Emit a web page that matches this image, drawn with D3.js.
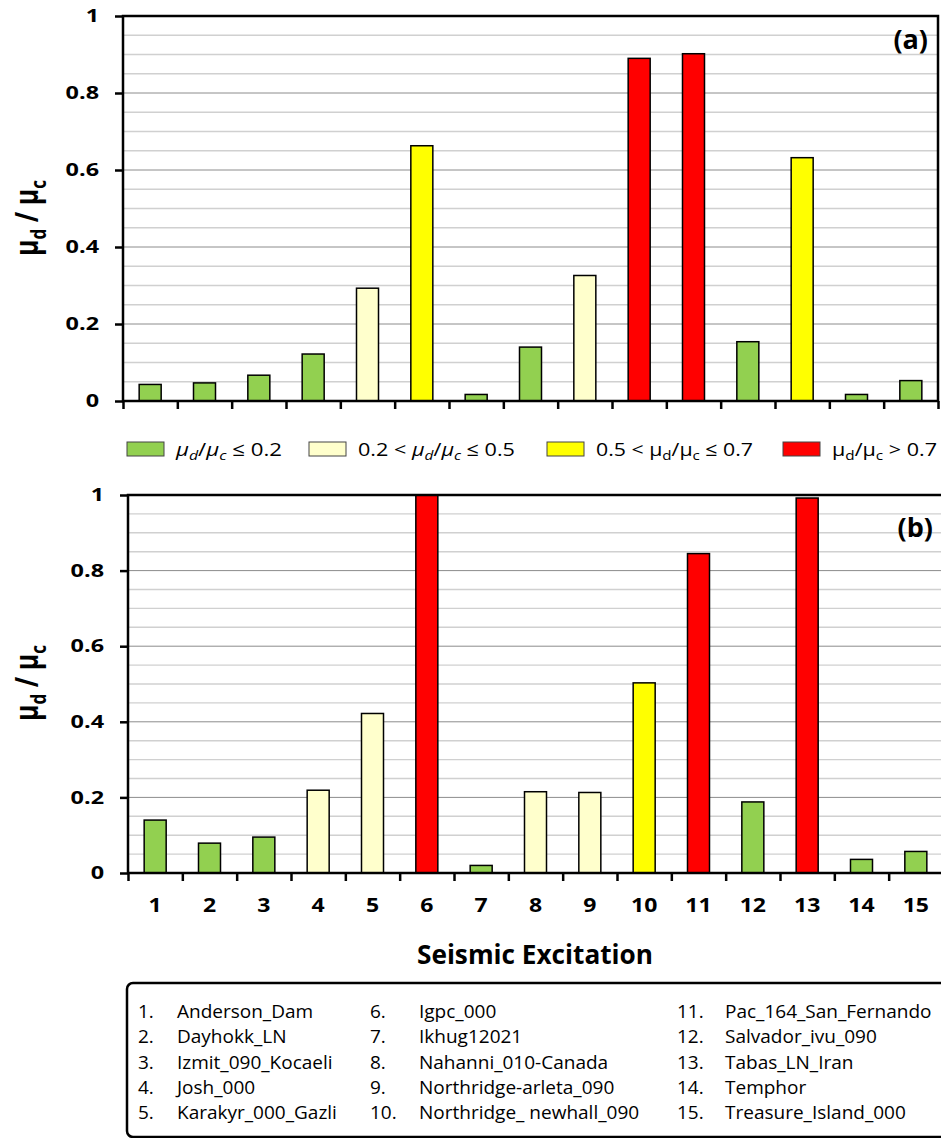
<!DOCTYPE html>
<html>
<head>
<meta charset="utf-8">
<script src="https://cdn.jsdelivr.net/npm/d3@7"></script>
<style>
  body { margin: 0; background: #fff; }
  svg { display: block; }
  text { font-family: "Open Sans", "Noto Sans", sans-serif; fill: #000; }
</style>
</head>
<body>
<svg id="chart" width="941" height="1138"></svg>
<script>
// categories (seismic excitation number)
var CATS = ["1", "2", "3", "4", "5", "6", "7", "8", "9", "10", "11", "12", "13", "14", "15"];
// mu_d / mu_c, panel (a) and (b)
var VALUES_A = [0.043, 0.047, 0.067, 0.122, 0.293, 0.663, 0.017, 0.140, 0.326, 0.890, 0.902, 0.154, 0.632, 0.017, 0.053];
var VALUES_B = [0.140, 0.079, 0.095, 0.219, 0.422, 1.000, 0.020, 0.215, 0.213, 0.503, 0.845, 0.188, 0.992, 0.036, 0.057];
var Y_TICKS = [0, 0.2, 0.4, 0.6, 0.8, 1];
// class limits for the colour legend
var LIMITS = [0.2, 0.5, 0.7];
var RECORDS = [
  "Anderson_Dam", "Dayhokk_LN", "Izmit_090_Kocaeli", "Josh_000", "Karakyr_000_Gazli",
  "Igpc_000", "Ikhug12021", "Nahanni_010-Canada", "Northridge-arleta_090", "Northridge_ newhall_090",
  "Pac_164_San_Fernando", "Salvador_ivu_090", "Tabas_LN_Iran", "Temphor", "Treasure_Island_000"
];

var COLORS = ["#92d050", "#ffffcc", "#ffff00", "#ff0000"];
var svg = d3.select("#chart");

function colorOf(v) {
  var i = d3.bisectLeft(LIMITS, v);
  return COLORS[i];
}

// stretch a text to k times its natural width (source figure is wide-set)
function stretch(sel, k) {
  sel.each(function () {
    var len = this.getComputedTextLength();
    d3.select(this).attr("textLength", len * k).attr("lengthAdjust", "spacingAndGlyphs");
  });
}

function panel(o) {
  var w = o.width, h = o.height;
  var g = svg.append("g").attr("transform", "translate(" + o.left + "," + o.top + ")");
  var y = d3.scaleLinear().domain([0, 1]).range([h, 0]);
  var x = d3.scaleBand().domain(CATS).range([0, w]);
  var xb = d3.scaleLinear().domain([0, CATS.length]).range([0, w]);

  // gridlines: light minor every 0.04, darker major every 0.2
  var grid = y.ticks(25).filter(function (d) { return d > 0 && d < 1; });
  var isMajor = function (d) { return Y_TICKS.indexOf(Math.round(d * 100) / 100) >= 0; };
  g.append("g").selectAll("line").data(grid).join("line")
    .attr("x1", 0).attr("x2", w)
    .attr("y1", function (d) { return y(d); }).attr("y2", function (d) { return y(d); })
    .attr("stroke", function (d) { return isMajor(d) ? "#8c8c8c" : "#d0d0d0"; })
    .attr("stroke-width", function (d) { return isMajor(d) ? 1 : 1.4; });

  var clipId = "clip" + o.tag.replace(/\W/g, "");
  g.append("clipPath").attr("id", clipId).append("rect").attr("width", w).attr("height", h);

  var bw = x.bandwidth() * 0.405;
  g.append("g").attr("clip-path", "url(#" + clipId + ")")
    .selectAll("rect").data(o.values).join("rect")
    .attr("x", function (d, i) { return x(CATS[i]) + (x.bandwidth() - bw) / 2; })
    .attr("width", bw)
    .attr("y", function (d) { return y(d); })
    .attr("height", function (d) { return h - y(d); })
    .attr("fill", function (d) { return colorOf(d); })
    .attr("stroke", "#000").attr("stroke-width", 1.5);

  // frame
  g.append("rect").attr("width", w).attr("height", h)
    .attr("fill", "none").attr("stroke", "#000").attr("stroke-width", 2.5);

  // y axis
  var ya = g.append("g").call(d3.axisLeft(y).tickValues(Y_TICKS).tickFormat(d3.format("")).tickSize(8).tickPadding(16));
  ya.select(".domain").remove();
  ya.selectAll(".tick line").attr("stroke", "#000").attr("stroke-width", 2.5);
  ya.selectAll("text").style("font-family", "'Open Sans', sans-serif")
    .style("font-size", "18px").style("font-weight", "700");
  stretch(ya.selectAll("text"), 1.3);

  // x boundary ticks
  var xa = g.append("g").attr("transform", "translate(0," + h + ")")
    .call(d3.axisBottom(xb).tickValues(d3.range(0, CATS.length + 1)).tickFormat("").tickSize(8));
  xa.select(".domain").remove();
  xa.selectAll(".tick line").attr("stroke", "#000").attr("stroke-width", 2.5);

  if (o.showX) {
    var xl = g.append("g").attr("transform", "translate(0," + h + ")")
      .call(d3.axisBottom(x).tickSize(0).tickPadding(25));
    xl.select(".domain").remove();
    xl.selectAll("text").style("font-family", "'Open Sans', sans-serif")
      .style("font-size", "20px").style("font-weight", "700");
    stretch(xl.selectAll("text"), 1.15);
  }

  // panel tag
  g.append("text").attr("x", w - 10).attr("y", o.tagY).attr("text-anchor", "end")
    .style("font-size", "27px").style("font-weight", "700").text(o.tag);

  // y title  mu_d / mu_c
  var t = svg.append("text")
    .attr("transform", "translate(" + o.titleX + "," + o.titleY + ") scale(1.3,1) rotate(-90)")
    .attr("text-anchor", "middle")
    .style("font-size", "25px").style("font-weight", "700");
  t.append("tspan").text("\u03bc");
  t.append("tspan").attr("dy", 6).style("font-size", "17px").text("d");
  t.append("tspan").attr("dy", -6).text(" / \u03bc");
  t.append("tspan").attr("dy", 6).style("font-size", "17px").text("c");
}

panel({ left: 123, top: 16, width: 815, height: 385, values: VALUES_A, tag: "(a)", tagY: 33, showX: false, titleX: 38, titleY: 218 });
panel({ left: 128, top: 495, width: 815, height: 378, values: VALUES_B, tag: "(b)", tagY: 42, showX: true, titleX: 38, titleY: 683 });

// colour legend between the panels
var LEGEND_LABELS = [
  [{ t: "\u03bc", i: 1 }, { t: "d", i: 1, s: 1 }, { t: "/" }, { t: "\u03bc", i: 1 }, { t: "c", i: 1, s: 1 }, { t: " \u2264 0.2" }],
  [{ t: "0.2 < " }, { t: "\u03bc", i: 1 }, { t: "d", i: 1, s: 1 }, { t: "/" }, { t: "\u03bc", i: 1 }, { t: "c", i: 1, s: 1 }, { t: " \u2264 0.5" }],
  [{ t: "0.5 < \u03bc" }, { t: "d", s: 1 }, { t: "/\u03bc" }, { t: "c", s: 1 }, { t: " \u2264 0.7" }],
  [{ t: "\u03bc" }, { t: "d", s: 1 }, { t: "/\u03bc" }, { t: "c", s: 1 }, { t: " > 0.7" }]
];
var LEGEND_X = [127, 309, 547, 783];
var LEGEND_LEN = [106, 157, 157, 105];

var lg = svg.append("g");
LEGEND_LABELS.forEach(function (parts, k) {
  lg.append("rect").attr("x", LEGEND_X[k]).attr("y", 442).attr("width", 37).attr("height", 14)
    .attr("fill", COLORS[k]).attr("stroke", "#444").attr("stroke-width", 1);
  var tx = lg.append("text").attr("x", LEGEND_X[k] + 49).attr("y", 456)
    .style("font-size", "19px")
    .attr("textLength", LEGEND_LEN[k]).attr("lengthAdjust", "spacingAndGlyphs");
  var down = false;
  parts.forEach(function (p) {
    var dy = 0;
    if (p.s && !down) { dy = 4; down = true; }
    else if (!p.s && down) { dy = -4; down = false; }
    tx.append("tspan").attr("dy", dy)
      .style("font-style", p.i ? "italic" : "normal")
      .style("font-size", p.s ? "13.5px" : "19px")
      .text(p.t);
  });
});

// x title
svg.append("text").attr("x", 535).attr("y", 964).attr("text-anchor", "middle")
  .style("font-size", "26px").style("font-weight", "700")
  .attr("textLength", 236).attr("lengthAdjust", "spacingAndGlyphs")
  .text("Seismic Excitation");

// record list box
svg.append("rect").attr("x", 127).attr("y", 983).attr("width", 830).attr("height", 154)
  .attr("rx", 6).attr("fill", "none").attr("stroke", "#000").attr("stroke-width", 2.5);

var COL_NUM_X = [138, 370, 677];
var COL_NAME_X = [177, 419, 725];
var rows = svg.append("g").style("font-size", "19px");
RECORDS.forEach(function (name, i) {
  var c = Math.floor(i / 5), r = i % 5;
  var yy = 1018 + r * 25.3;
  rows.append("text").attr("x", COL_NUM_X[c]).attr("y", yy).text((i + 1) + ".");
  rows.append("text").attr("x", COL_NAME_X[c]).attr("y", yy).text(name);
});
</script>
</body>
</html>
